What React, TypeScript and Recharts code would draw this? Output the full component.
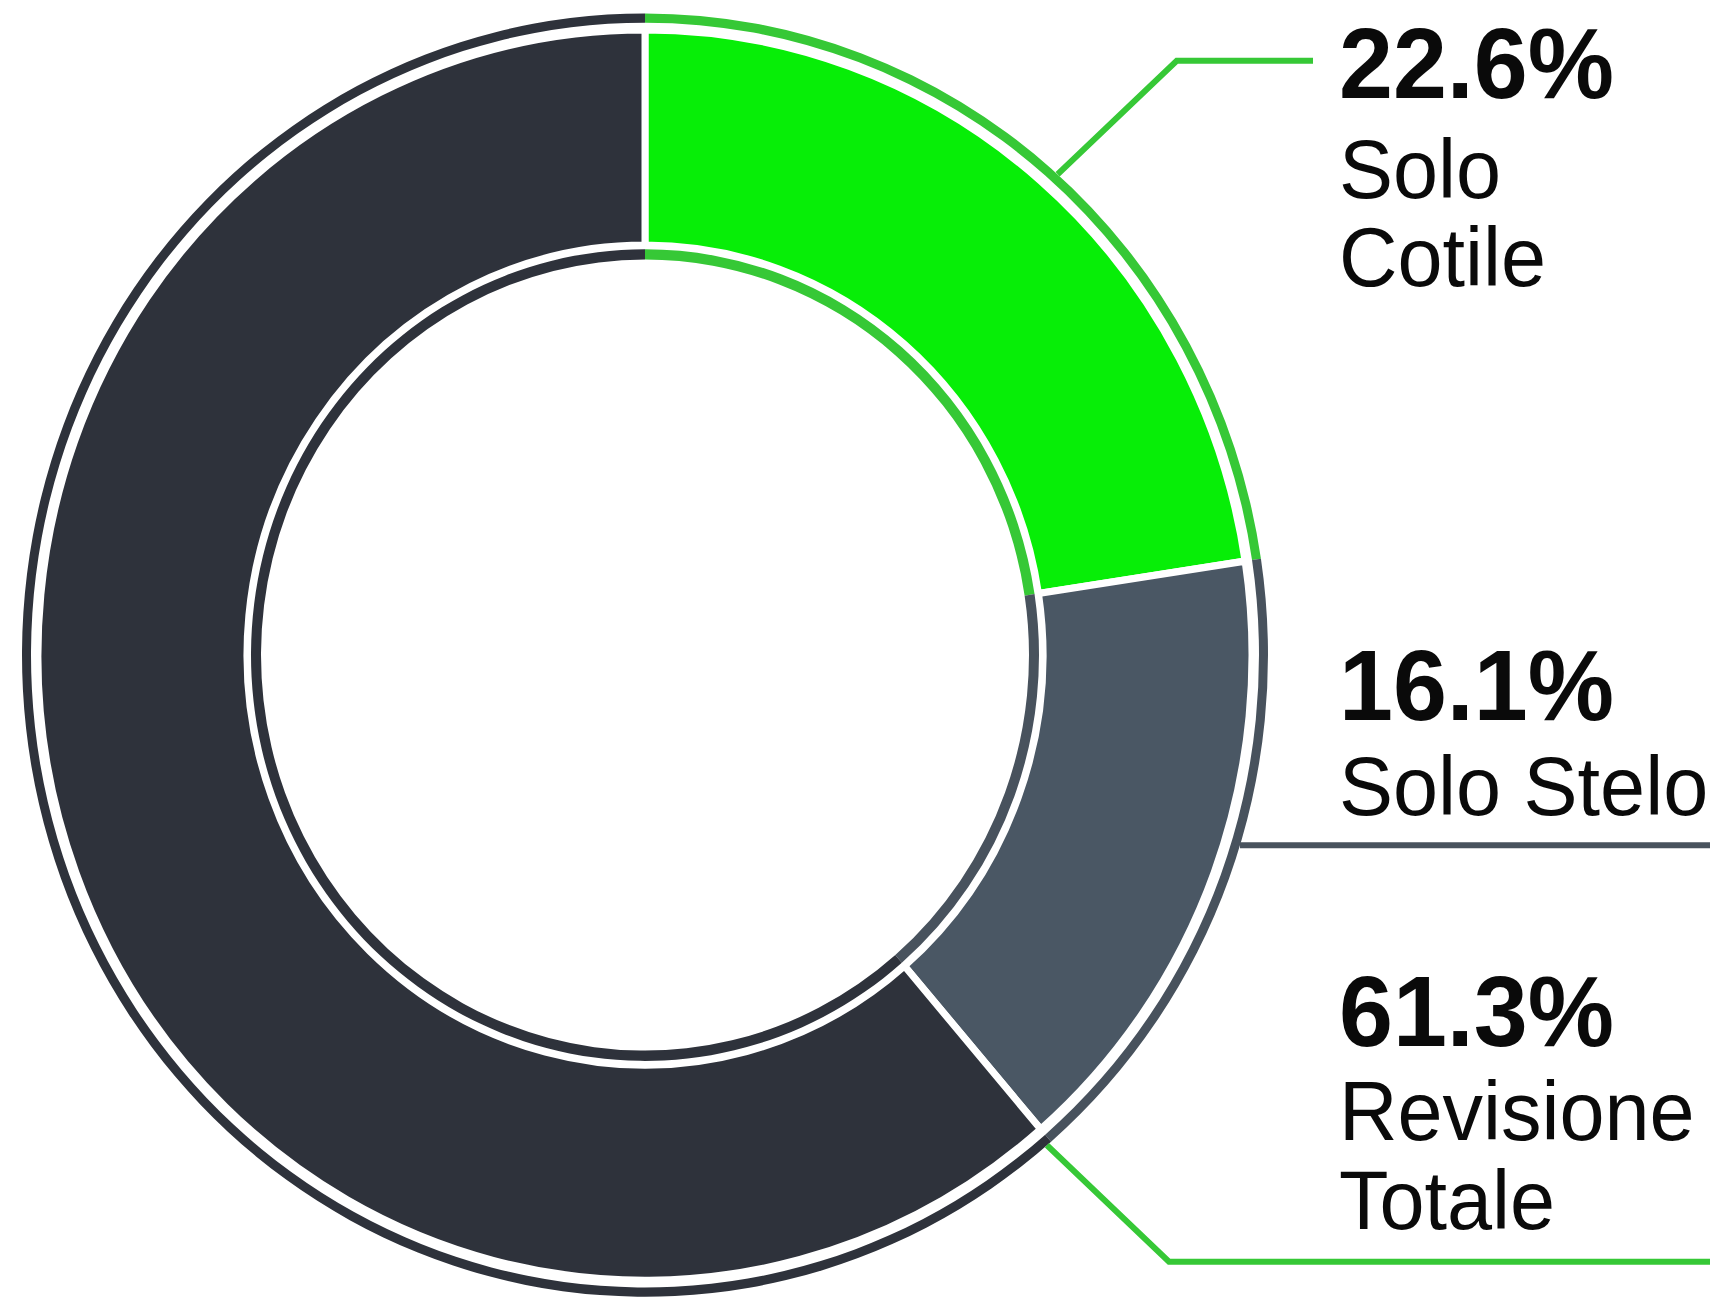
import { PieChart, Pie, Cell } from "recharts";

// Hip revision breakdown — shares of total revisions
const categories = ["Solo Cotile", "Solo Stelo", "Revisione Totale"];
const shares = [22.6, 16.1, 61.3];
const labelRows = [["Solo", "Cotile"], ["Solo Stelo"], ["Revisione", "Totale"]];

const data = categories.map((name, i) => ({ name, value: shares[i] }));

const mainFill = ["#07ee07", "#4a5764", "#2e323b"];
const ringFill = ["#36c836", "#48525d", "#2e323b"];

const RAD = Math.PI / 180;
const FONT = "'Liberation Sans', Arial, Helvetica, sans-serif";

// the original artwork is slightly taller than wide
const STRETCH = 1.03;
const W = 1719;
const H = Math.round(1301 / STRETCH);
const CX = 645;
const CY = 636;

// callout layout: where the horizontal leader sits and where the text block goes
const lineY = [59, null, 1225];
const lineEnd = [1313, 1710, 1710];
const boldY = [95, 699, 1016];
const firstGap = [97, 92, 91];

function Callout(props: any) {
  const { cx, cy, midAngle, outerRadius, percent, index } = props;
  // the total-revision leader leaves the ring right after the slice start
  const angle =
    index === 0 ? midAngle - 0.8 : index === 1 ? midAngle + 3.1 : midAngle + percent * 180 - 0.5;
  const x0 = cx + outerRadius * Math.cos(-angle * RAD);
  const y0 = cy + outerRadius * Math.sin(-angle * RAD);
  const ly = lineY[index] ?? y0;
  const ex = x0 + 1.08 * Math.abs(y0 - ly);
  const stroke = index === 1 ? ringFill[1] : ringFill[0];
  const tx = cx + 694;
  return (
    <g>
      <polyline
        points={`${x0},${y0} ${ex},${ly} ${lineEnd[index]},${ly}`}
        fill="none"
        stroke={stroke}
        strokeWidth={6}
      />
      <text x={tx} y={boldY[index]} fontFamily={FONT} fontWeight={700} fontSize={97} fill="#0a0a0a">
        {`${shares[index].toFixed(1)}%`}
      </text>
      {labelRows[index].map((row, k) => (
        <text
          key={row}
          x={tx}
          y={boldY[index] + firstGap[index] + k * 86}
          fontFamily={FONT}
          fontSize={81}
          fill="#0a0a0a"
        >
          {row}
        </text>
      ))}
    </g>
  );
}

export default function App() {
  return (
    <div style={{ width: W, height: 1301, background: "#fff", overflow: "hidden" }}>
      <style>{"body{margin:0}"}</style>
      <div style={{ transform: `scaleY(${STRETCH})`, transformOrigin: "0 0", width: W, height: H }}>
        <PieChart width={W} height={H} margin={{ top: 0, right: 0, bottom: 0, left: 0 }}>
          <Pie
            data={data}
            dataKey="value"
            cx={CX}
            cy={CY}
            startAngle={90}
            endAngle={-270}
            innerRadius={614}
            outerRadius={623}
            stroke="none"
            label={Callout}
            labelLine={false}
            isAnimationActive={false}
          >
            {data.map((d, i) => (
              <Cell key={d.name} fill={ringFill[i]} stroke="none" />
            ))}
          </Pie>
          <Pie
            data={data}
            dataKey="value"
            cx={CX}
            cy={CY}
            startAngle={90}
            endAngle={-270}
            innerRadius={398}
            outerRadius={607}
            stroke="#ffffff"
            strokeWidth={7}
            isAnimationActive={false}
          >
            {data.map((d, i) => (
              <Cell key={d.name} fill={mainFill[i]} stroke="#ffffff" strokeWidth={7} />
            ))}
          </Pie>
          <Pie
            data={data}
            dataKey="value"
            cx={CX}
            cy={CY}
            startAngle={90}
            endAngle={-270}
            innerRadius={384}
            outerRadius={394}
            stroke="none"
            isAnimationActive={false}
          >
            {data.map((d, i) => (
              <Cell key={d.name} fill={ringFill[i]} stroke="none" />
            ))}
          </Pie>
        </PieChart>
      </div>
    </div>
  );
}
